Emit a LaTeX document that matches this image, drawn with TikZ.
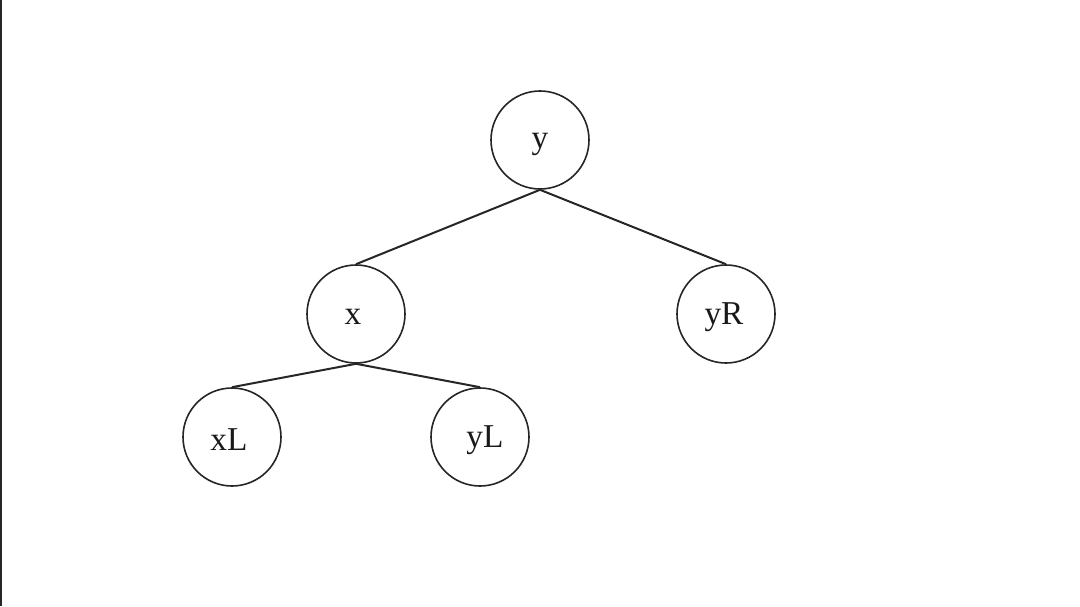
\documentclass[tikz,border=0pt]{standalone}
\usepackage{fontspec}
\setmainfont{Liberation Serif}
\begin{document}
\begin{tikzpicture}[x=0.75pt,y=-0.75pt,
  tnode/.style={draw=black!85,line width=1.2pt,circle,minimum size={98*0.75pt},inner sep=0pt},
  lbl/.style={font=\fontsize{25}{28}\selectfont,text=black!90,inner sep=0pt},
  edge/.style={draw=black!85,line width=1.5pt}]
\useasboundingbox (0,0) rectangle (1080,606);
\fill[white] (0,0) rectangle (1080,606);
\draw[line width=1.6pt,black!85] (1,0) -- (1,606);
\node[tnode] (y) at (540,140) {};
\node[tnode] (x) at (356,314) {};
\node[tnode] (yR) at (726,314) {};
\node[tnode] (xL) at (232,437) {};
\node[tnode] (yL) at (480,437) {};
\node[lbl] (ty) at (540,144) {y};
\node[lbl] (tx) at (353,317) {x};
\node[lbl] (tyR) at (724,317) {yR};
\node[lbl] (txL) at (229,440) {xL};
\node[lbl] (tyL) at (485,440) {yL};
\draw[edge] (y.south) -- (x.north);
\draw[edge] (y.south) -- (yR.north);
\draw[edge] (x.south) -- (xL.north);
\draw[edge] (x.south) -- (yL.north);
\end{tikzpicture}
\end{document}
